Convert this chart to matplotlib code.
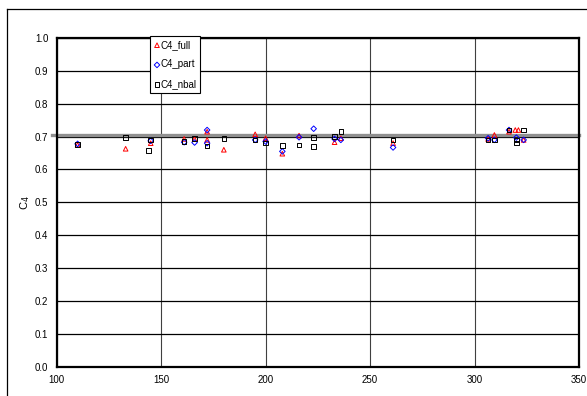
import matplotlib
matplotlib.use("Agg")
import matplotlib.pyplot as plt
from matplotlib.lines import Line2D

full_x = [110, 133, 145, 161, 166, 172, 172, 180, 195, 200, 208, 216, 233, 236, 261, 306.5, 309.5, 316.5, 319.5, 321, 323.5]
full_y = [0.675, 0.663, 0.68, 0.693, 0.692, 0.715, 0.69, 0.66, 0.707, 0.695, 0.648, 0.703, 0.683, 0.695, 0.68, 0.693, 0.705, 0.715, 0.72, 0.72, 0.69]

part_x = [110, 145, 161, 166, 172, 172, 195, 200, 208, 216, 223, 233, 236, 261, 306.5, 309.5, 316.5, 320, 323.5]
part_y = [0.678, 0.687, 0.683, 0.682, 0.72, 0.68, 0.69, 0.685, 0.655, 0.698, 0.724, 0.693, 0.69, 0.667, 0.695, 0.69, 0.72, 0.697, 0.69]

nbal_x = [110, 133, 144, 145, 161, 166, 172, 180, 195, 200, 208, 216, 223, 223, 233, 236, 261, 306.5, 309.5, 316.5, 320, 320, 323.5]
nbal_y = [0.676, 0.697, 0.657, 0.69, 0.685, 0.695, 0.672, 0.695, 0.69, 0.68, 0.673, 0.675, 0.698, 0.67, 0.70, 0.715, 0.69, 0.69, 0.69, 0.72, 0.69, 0.68, 0.72]

ref_level = 0.705
x_ticks = [100, 150, 200, 250, 300, 350]
y_ticks = [0.0, 0.1, 0.2, 0.3, 0.4, 0.5, 0.6, 0.7, 0.8, 0.9, 1.0]

plt.rcParams['font.family'] = ['Liberation Sans Narrow', 'Liberation Sans', 'DejaVu Sans']

fig = plt.figure(figsize=(5.87, 3.96), dpi=100)
ax = fig.add_axes([56.7/587, (396-366.7)/396, (579-56.7)/587, (366.7-38)/396])

# figure frame
fig.add_artist(Line2D([7/587, 7/587], [0, 1-9/396], transform=fig.transFigure, color='black', lw=0.9))
fig.add_artist(Line2D([7/587, 1], [1-9/396, 1-9/396], transform=fig.transFigure, color='black', lw=0.9))

ax.set_xlim(100, 350)
ax.set_ylim(0, 1.0)
ax.set_xticks(x_ticks)
ax.set_yticks(y_ticks)
ax.set_xticklabels([str(t) for t in x_ticks])
ax.set_yticklabels([f"{t:.1f}" for t in y_ticks])
ax.tick_params(length=0, labelsize=7, pad=6)
ax.grid(True, axis='y', color='black', lw=0.9)
ax.grid(True, axis='x', color='#404040', lw=0.8)
ax.set_axisbelow(True)
for s in ax.spines.values():
    s.set_linewidth(1.6)
    s.set_color('black')

ax.axhline(ref_level, xmin=-0.009, xmax=1, color='#909090', lw=2.4, clip_on=False, zorder=2)

ax.scatter(full_x, full_y, marker='^', s=11, facecolors='none', edgecolors='red', linewidths=0.7, zorder=3, label='C4_full')
ax.scatter(part_x, part_y, marker='D', s=8, facecolors='none', edgecolors='blue', linewidths=0.7, zorder=3, label='C4_part')
ax.scatter(nbal_x, nbal_y, marker='s', s=11, facecolors='none', edgecolors='black', linewidths=0.7, zorder=3, label='C4_nbal')

ax.set_ylabel('C$_4$', fontsize=8, labelpad=2)

leg = ax.legend(loc='upper left', bbox_to_anchor=(0.179, 1.005), fontsize=7, frameon=True,
                fancybox=False, edgecolor='black', framealpha=1, borderpad=0.35,
                handletextpad=0.05, handlelength=0.7, labelspacing=1.0, borderaxespad=0)
leg.get_frame().set_linewidth(0.8)

fig.savefig('out.png', dpi=100)
